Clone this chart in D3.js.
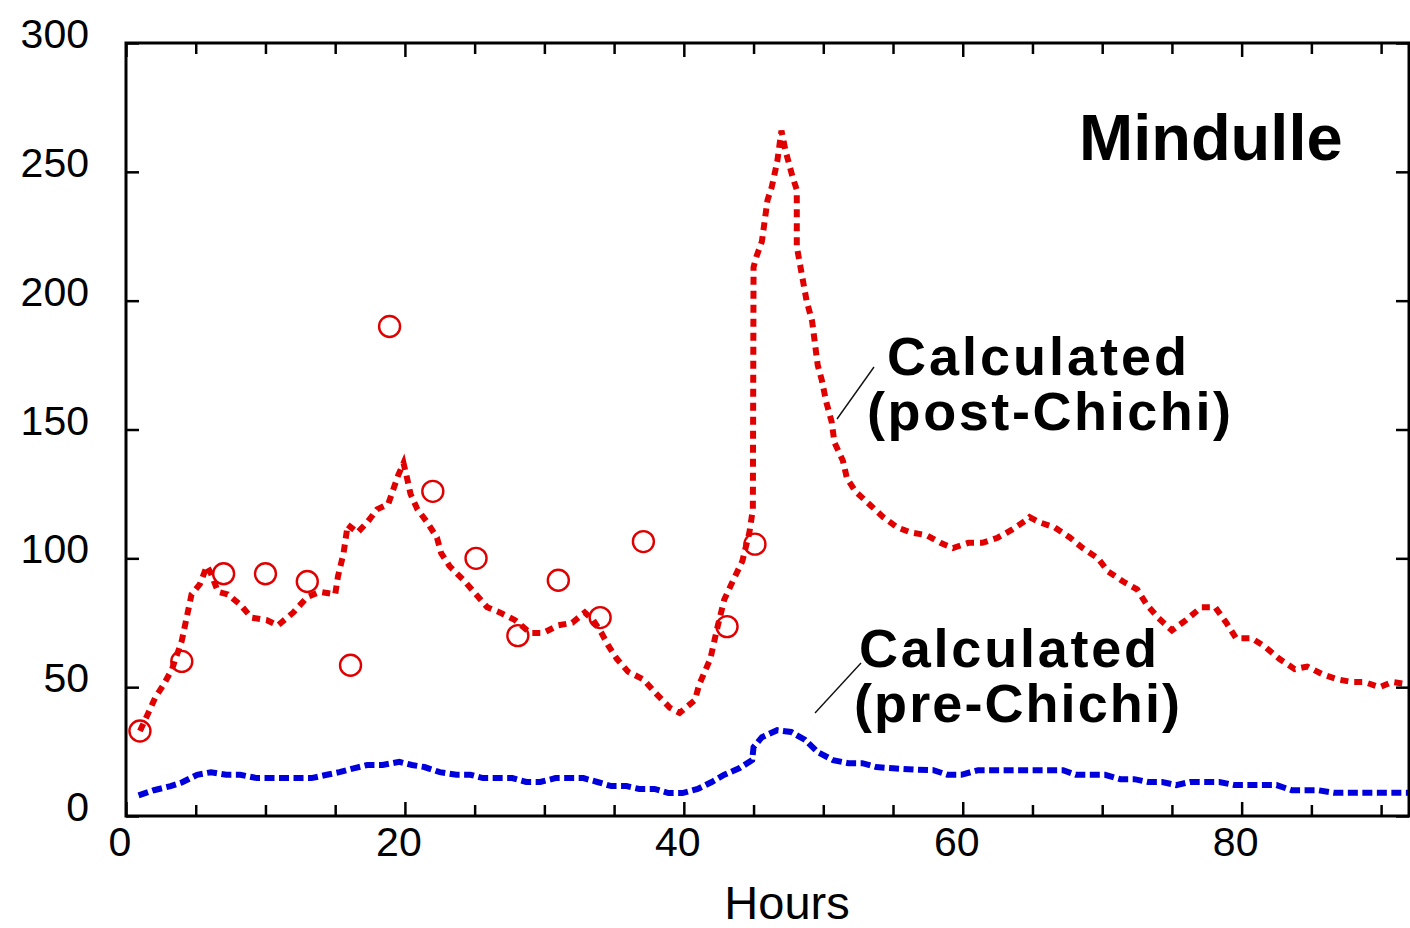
<!DOCTYPE html>
<html>
<head>
<meta charset="utf-8">
<script src="https://cdn.jsdelivr.net/npm/d3@7"></script>
<style>
  html, body { margin: 0; padding: 0; background: #fff; }
  svg { display: block; }
  text { font-family: "Liberation Sans", Arial, Helvetica, sans-serif; fill: #000; }
</style>
</head>
<body>
<svg id="chart" width="1410" height="928"></svg>
<script>
// Post-Chichi calculated series (hours, value)
const postHours = [1,1.6,2.1,2.7,3.3,4.0,4.7,5.3,5.8,6.1,6.6,7.3,8.2,9.0,10.1,10.9,12.0,13.0,13.9,15.0,15.2,15.6,15.9,16.6,17.3,18.0,18.8,19.5,19.9,20.2,20.4,20.9,21.6,22.3,22.6,23.2,24.3,25.1,25.9,26.8,27.9,29.0,29.9,31.0,32.0,32.9,33.5,34.1,34.6,35.2,36.0,37.1,38.1,39.0,39.7,40.8,41.1,41.9,42.4,42.9,43.5,44.2,44.7,44.95,45.0,45.2,45.6,46.0,46.3,46.7,47.0,47.3,47.8,48.1,48.1,48.5,48.8,49.2,49.6,49.9,50.2,50.6,50.8,51.4,51.7,52.3,53.3,54.3,55.3,56.3,57.4,58.4,59.3,60.4,61.4,62.5,63.5,64.6,64.8,65.5,66.6,67.7,68.6,69.7,70.4,71.5,72.5,73.2,74.0,75.0,76.0,77.1,78.1,78.9,79.6,80.7,81.6,82.7,83.8,84.7,85.8,86.9,87.9,88.8,89.9,90.8,92];
const postValues = [33,40,46,51,57,68,86,90,97,94,87,86,82,77,76,74,79,85,87,86,93,102,113,110,114,119,121,132,137,130,125,119,114,108,102,97,91,86,81,79,76,71,71,74,75,79,76,71,66,61,56,53,47,42,40,45,51,61,73,84,91,99,110,119,213,217,223,239,244,254,266,258,248,243,221,209,200,192,175,169,161,153,145,138,131,126,121,116,112,110,109,106,104,106,106,108,111,115,116,114,112,108,104,100,95,91,88,82,77,72,76,81,81,75,69,69,66,61,57,58,55,53,52,52,50,52,51];

// Pre-Chichi calculated series (hours, value)
const preHours = [0.9,2.0,3.2,4.0,5.1,6.1,7.2,8.2,9.4,10.3,11.3,12.3,13.3,14.4,15.3,16.4,17.3,18.4,19.6,20.5,21.4,22.5,23.7,24.7,25.6,26.7,27.7,28.7,29.7,30.8,31.7,32.8,33.8,34.8,35.9,36.8,37.9,38.9,39.9,41.0,42.0,42.9,44.0,44.9,45.0,45.6,46.7,47.7,48.7,49.6,50.7,51.8,52.8,53.8,55.0,56.5,57.9,58.9,59.9,61.1,63.0,65.0,67.2,68.1,69.2,70.2,71.3,72.3,73.3,74.3,75.3,76.3,77.4,78.4,79.5,80.4,81.5,82.5,83.6,84.6,85.5,86.6,88.5,90.3,92];
const preValues = [8,10,11.6,13,16,17,16,16,14.7,14.7,14.7,14.7,14.7,16,17,18.6,19.8,19.8,21,19.8,19,17,16,16,14.7,14.7,14.7,13.2,13.2,14.7,14.7,14.7,13.2,11.6,11.6,10.5,10.5,8.9,8.9,10.5,13.2,16,18.6,21.7,26.7,30.6,33.3,32.6,29.5,24.8,21.7,20.5,20.5,19,18.5,18,17.8,16,16,17.8,17.8,17.8,17.8,16,16,16,14.3,14.3,13.2,13.2,12,13.2,13.2,13.2,12,12,12,12,10,10,10,9,9,9,9];

// Observed values (open circles)
const obsHours = [1.0,4.0,7.0,10.0,13.0,16.1,18.9,22.0,25.1,28.1,31.0,34.0,37.1,43.1,45.1];
const obsValues = [33,60,94,94,91,58.5,190,126,100,70,91.5,77,106.5,73.5,105.5];

// Axis ticks and labels
const xMajorTicks = [0,20,40,60,80];
const xMinorTicks = [5,10,15,25,30,35,45,50,55,65,70,75,85,90];
const yTicks = [0,50,100,150,200,250,300];

const stormName = "Mindulle";
const postLabel = ["Calculated", "(post-Chichi)"];
const preLabel = ["Calculated", "(pre-Chichi)"];
const xTitle = "Hours";

const RED = "#e00000";
const BLUE = "#0000dc";

const svg = d3.select("#chart");
const plot = { left: 126, right: 1409, top: 43, bottom: 816 };

const x = d3.scaleLinear().domain([0, 92]).range([plot.left, plot.right]);
const y = d3.scaleLinear().domain([0, 300]).range([plot.bottom, plot.top]);

const line = d3.line().x(d => x(d[0])).y(d => y(d[1]));
const zip = (a, b) => a.map((v, i) => [v, b[i]]);

svg.append("clipPath").attr("id", "plotClip")
  .append("rect")
  .attr("x", plot.left).attr("y", plot.top)
  .attr("width", plot.right - plot.left).attr("height", plot.bottom - plot.top);

const marks = svg.append("g").attr("clip-path", "url(#plotClip)");

// Pre-Chichi line (blue dashes)
marks.append("path")
  .datum(zip(preHours, preValues))
  .attr("d", line)
  .attr("fill", "none")
  .attr("stroke", BLUE)
  .attr("stroke-width", 6)
  .attr("stroke-dasharray", "10,4.5")
  .attr("stroke-linejoin", "miter");

// Post-Chichi line (red dots)
marks.append("path")
  .datum(zip(postHours, postValues))
  .attr("d", line)
  .attr("fill", "none")
  .attr("stroke", RED)
  .attr("stroke-width", 6)
  .attr("stroke-dasharray", "8,6")
  .attr("stroke-linejoin", "miter");

// Observations
marks.selectAll("circle.obs")
  .data(zip(obsHours, obsValues))
  .join("circle")
  .attr("class", "obs")
  .attr("cx", d => x(d[0]))
  .attr("cy", d => y(d[1]))
  .attr("r", 10.5)
  .attr("fill", "none")
  .attr("stroke", RED)
  .attr("stroke-width", 2.4);

// Axes: ticks on all four sides, pointing inward
function styleAxis(g) {
  g.select(".domain").remove();
  g.selectAll(".tick line").attr("stroke", "#000").attr("stroke-width", 2.5);
  g.selectAll(".tick text").remove();
}
svg.append("g").attr("transform", `translate(0,${plot.bottom})`)
  .call(d3.axisTop(x).tickValues(xMinorTicks).tickSize(11).tickFormat("")).call(styleAxis);
svg.append("g").attr("transform", `translate(0,${plot.bottom})`)
  .call(d3.axisTop(x).tickValues(xMajorTicks).tickSize(14).tickFormat("")).call(styleAxis);
svg.append("g").attr("transform", `translate(0,${plot.top})`)
  .call(d3.axisBottom(x).tickValues(xMinorTicks).tickSize(11).tickFormat("")).call(styleAxis);
svg.append("g").attr("transform", `translate(0,${plot.top})`)
  .call(d3.axisBottom(x).tickValues(xMajorTicks).tickSize(14).tickFormat("")).call(styleAxis);
svg.append("g").attr("transform", `translate(${plot.left},0)`)
  .call(d3.axisRight(y).tickValues(yTicks).tickSize(13).tickFormat("")).call(styleAxis);
svg.append("g").attr("transform", `translate(${plot.right},0)`)
  .call(d3.axisLeft(y).tickValues(yTicks).tickSize(13).tickFormat("")).call(styleAxis);

// Frame
svg.append("rect")
  .attr("x", plot.left).attr("y", plot.top)
  .attr("width", plot.right - plot.left).attr("height", plot.bottom - plot.top)
  .attr("fill", "none").attr("stroke", "#000").attr("stroke-width", 3);

// Tick labels
svg.append("g").selectAll("text")
  .data(yTicks)
  .join("text")
  .attr("x", 89)
  .attr("y", d => y(d) + 5)
  .attr("text-anchor", "end")
  .attr("font-size", 41)
  .text(d => d);

svg.append("g").selectAll("text")
  .data(xMajorTicks)
  .join("text")
  .attr("x", d => x(d) - 6)
  .attr("y", 856)
  .attr("text-anchor", "middle")
  .attr("font-size", 41)
  .text(d => d);

svg.append("text")
  .attr("x", 787).attr("y", 919)
  .attr("text-anchor", "middle")
  .attr("font-size", 47)
  .text(xTitle);

// Storm name
svg.append("text")
  .attr("x", 1079).attr("y", 160)
  .attr("font-size", 65)
  .attr("font-weight", "bold")
  .text(stormName);

// Series annotations with leader lines
function annotate(lines, xs, ys, widths, leader) {
  const g = svg.append("g");
  g.append("line")
    .attr("x1", leader[0]).attr("y1", leader[1])
    .attr("x2", leader[2]).attr("y2", leader[3])
    .attr("stroke", "#111").attr("stroke-width", 1.4);
  lines.forEach((t, i) => {
    g.append("text")
      .attr("x", xs[i]).attr("y", ys[i])
      .attr("font-size", 54)
      .attr("font-weight", "bold")
      .attr("textLength", widths[i])
      .attr("lengthAdjust", "spacing")
      .text(t);
  });
}
annotate(postLabel, [887, 867], [375, 430], [300, 364], [837, 419, 874, 367]);
annotate(preLabel, [859, 854], [667, 722], [298, 326], [815, 713, 861, 663]);
</script>
</body>
</html>
